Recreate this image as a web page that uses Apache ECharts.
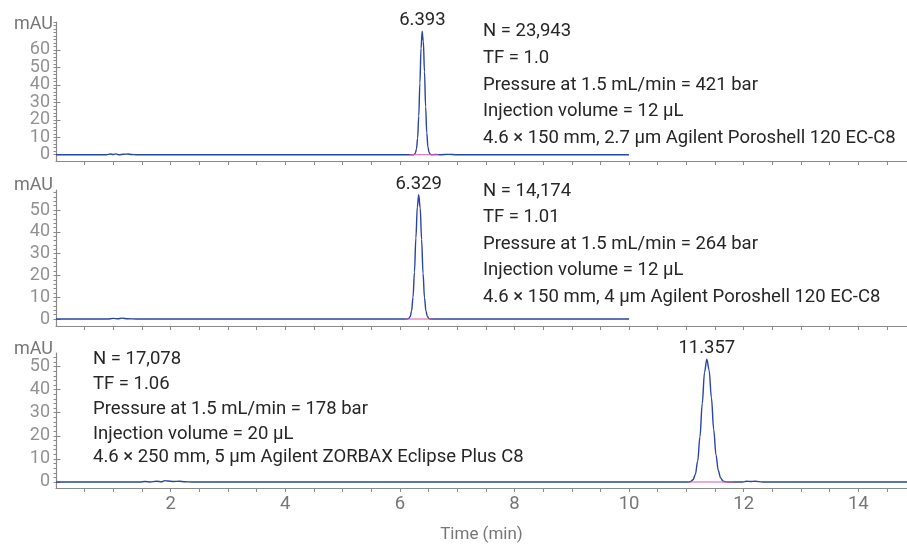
<!DOCTYPE html>
<html><head><meta charset="utf-8">
<script src="https://cdn.jsdelivr.net/npm/echarts@6/dist/echarts.min.js"></script>
<style>html,body{margin:0;padding:0;background:#fff}#c{width:907px;height:544px}</style>
</head><body><div id="c"></div><script>
// ---- Data ----
// Trace 1: 4.6 x 150 mm, 2.7 um Poroshell 120 EC-C8
const trace1Time  = [0, 0.5, 0.88, 0.95, 1.0, 1.05, 1.1, 1.18, 1.25, 1.32, 1.4, 2.5, 4.0, 5.5, 6.1, 6.23, 6.25, 6.27, 6.29, 6.31, 6.33, 6.35, 6.37, 6.39, 6.393, 6.41, 6.43, 6.45, 6.47, 6.49, 6.51, 6.53, 6.55, 6.62, 6.7, 6.85, 7.0, 7.2, 8.5, 10.0];
const trace1Value = [0, 0, 0, 0.4, 0.1, 0.5, 0, 0.3, 0.4, 0.1, 0, 0, 0, 0, 0, 0, 0.2, 0.8, 3.2, 9.4, 22, 41, 61, 70.8, 71, 65, 47.5, 27.5, 12.5, 4.5, 1.3, 0.3, 0, 0.15, 0, 0.2, 0, 0, 0, 0];
// Trace 2: 4.6 x 150 mm, 4 um Poroshell 120 EC-C8
const trace2Time  = [0, 0.5, 0.9, 1.0, 1.08, 1.15, 1.25, 1.4, 3.0, 5.0, 6.0, 6.13, 6.155, 6.18, 6.205, 6.23, 6.255, 6.28, 6.305, 6.329, 6.355, 6.38, 6.405, 6.43, 6.455, 6.48, 6.505, 6.53, 6.6, 7.0, 8.5, 10.0];
const trace2Value = [0, 0, 0, 0.3, 0.1, 0.4, 0.1, 0, 0, 0, 0, 0, 0.25, 1.1, 3.7, 10, 21.5, 37.2, 51.4, 57, 51, 36.5, 21, 9.8, 3.7, 1.2, 0.3, 0, 0, 0, 0, 0];
// Trace 3: 4.6 x 250 mm, 5 um ZORBAX Eclipse Plus C8
const trace3Time  = [0, 1.0, 1.46, 1.55, 1.65, 1.75, 1.85, 1.9, 1.95, 2.05, 2.15, 2.25, 2.37, 3.5, 6.0, 9.0, 10.9, 11.037, 11.077, 11.117, 11.157, 11.197, 11.237, 11.277, 11.317, 11.357, 11.397, 11.437, 11.477, 11.517, 11.557, 11.597, 11.637, 11.677, 11.717, 11.8, 11.98, 12.05, 12.12, 12.2, 12.33, 13.0, 14.0, 14.85];
const trace3Value = [0, 0, 0, 0.2, 0, 0.3, 0.1, 0.6, 0.4, 0.2, 0.3, 0.1, 0, 0, 0, 0, 0, 0, 0.23, 1.0, 3.3, 9.0, 19.6, 34, 47.5, 53.2, 48.4, 36.5, 22.7, 11.7, 5.0, 1.8, 0.5, 0.1, 0, 0, 0, 0.3, 0.2, 0.35, 0, 0, 0, 0];

// Integration baselines (start, end times)
const baseline1 = [6.17, 6.66];
const baseline2 = [6.09, 6.57];
const baseline3 = [11.02, 11.81];

// Peak labels
const peakTimes  = [6.393, 6.329, 11.357];
const peakValues = [71, 57, 53.2];
const peakLabels = ['6.393', '6.329', '11.357'];

// Annotation texts
const notes1 = ['N = 23,943', 'TF = 1.0', 'Pressure at 1.5 mL/min = 421 bar', 'Injection volume = 12 µL', '4.6 × 150 mm, 2.7 µm Agilent Poroshell 120 EC-C8'];
const notes2 = ['N = 14,174', 'TF = 1.01', 'Pressure at 1.5 mL/min = 264 bar', 'Injection volume = 12 µL', '4.6 × 150 mm, 4 µm Agilent Poroshell 120 EC-C8'];
const notes3 = ['N = 17,078', 'TF = 1.06', 'Pressure at 1.5 mL/min = 178 bar', 'Injection volume = 20 µL', '4.6 × 250 mm, 5 µm Agilent ZORBAX Eclipse Plus C8'];

// Axis ticks / labels
const xLabelValues = [2, 4, 6, 8, 10, 12, 14];
const xTickValues = [0.5, 1, 1.5, 2, 2.5, 3, 3.5, 4, 4.5, 5, 5.5, 6, 6.5, 7, 7.5, 8, 8.5, 9, 9.5, 10, 10.5, 11, 11.5, 12, 12.5, 13, 13.5, 14, 14.5];
const yLabels1 = [0, 10, 20, 30, 40, 50, 60];
const yLabels2 = [0, 10, 20, 30, 40, 50];
const yLabels3 = [0, 10, 20, 30, 40, 50];
const yRanges = [[-3.6, 76], [-3.2, 59.2], [-2.6, 55.85]];

// ---- Chart ----
const FONT = 'Roboto';
const FS = 18.5;
const YFS = 18;
const AXIS = '#8a8a8a';
const LABEL = '#767676';
const TEXT = '#262626';
const BLUE = '#2a44a4';
const PINK = '#d95aa8';

function minorTicks(max) { const a = []; for (let v = 0; v <= max; v += 2) a.push(v); return a; }

const grids = [
  { left: 56, width: 851, top: 22, height: 139 },
  { left: 56, width: 851, top: 190, height: 136 },
  { left: 56, width: 851, top: 353, height: 136 }
];
const nameGaps = [-2, 5, 4];

const xAxes = [0, 1, 2].map(i => ({
  type: 'value', gridIndex: i, min: 0, max: 14.85,
  axisLine: { show: true, onZero: false, lineStyle: { color: AXIS, width: 1.2 } },
  axisTick: { show: true, customValues: xTickValues, length: 4, lineStyle: { color: AXIS } },
  axisLabel: i === 2 ? { show: true, customValues: xLabelValues, color: LABEL, fontSize: FS, fontFamily: FONT, margin: 7 } : { show: false },
  splitLine: { show: false },
  name: i === 2 ? 'Time (min)' : '',
  nameLocation: 'middle', nameGap: 38,
  nameTextStyle: { color: LABEL, fontSize: 17, fontFamily: FONT }
}));

const yLabelSets = [yLabels1, yLabels2, yLabels3];
const yAxes = [];
[0, 1, 2].forEach(i => {
  yAxes.push({
    type: 'value', gridIndex: i, min: yRanges[i][0], max: yRanges[i][1],
    axisLine: { show: true, onZero: false, lineStyle: { color: AXIS, width: 1.2 } },
    axisTick: { show: true, customValues: minorTicks(yRanges[i][1]), length: 2.5, lineStyle: { color: AXIS } },
    axisLabel: { show: false },
    splitLine: { show: false },
    name: 'mAU', nameLocation: 'end', nameGap: nameGaps[i],
    nameTextStyle: { color: LABEL, fontSize: YFS, fontFamily: FONT, align: 'right', verticalAlign: 'middle', padding: [0, 3, 0, 0] }
  });
});
[0, 1, 2].forEach(i => {
  yAxes.push({
    type: 'value', gridIndex: i, min: yRanges[i][0], max: yRanges[i][1],
    axisLine: { show: false },
    axisTick: { show: true, customValues: yLabelSets[i], length: 4.5, lineStyle: { color: AXIS } },
    axisLabel: { show: false }, splitLine: { show: false }
  });
});

const traces = [[trace1Time, trace1Value], [trace2Time, trace2Value], [trace3Time, trace3Value]];
const baselines = [baseline1, baseline2, baseline3];
const series = [];
traces.forEach((tr, i) => {
  series.push({
    type: 'line', xAxisIndex: i, yAxisIndex: i,
    data: tr[0].map((t, k) => [t, tr[1][k]]),
    showSymbol: false, smooth: 0.35, smoothMonotone: 'x',
    lineStyle: { color: BLUE, width: 1.4 }, itemStyle: { color: BLUE },
    silent: true, animation: false, z: 2,
    markPoint: {
      symbol: 'circle', symbolSize: 0.01, silent: true, animation: false,
      data: [{ coord: [peakTimes[i], peakValues[i]], value: peakLabels[i] }],
      label: { show: true, position: 'top', distance: 1, color: TEXT, fontSize: FS, fontFamily: FONT, formatter: peakLabels[i] }
    }
  });
  series.push({
    type: 'line', xAxisIndex: i, yAxisIndex: i,
    data: [[baselines[i][0], 0], [baselines[i][1], 0]],
    showSymbol: false, lineStyle: { color: PINK, width: 1 }, silent: true, animation: false, z: 3
  });
  // y-axis tick labels, placed through the y scale
  series.push({
    type: 'scatter', xAxisIndex: i, yAxisIndex: i, clip: false,
    data: yLabelSets[i].map(v => [0, v]),
    symbolSize: 0, silent: true, animation: false,
    label: { show: true, position: 'left', distance: 6, color: LABEL, fontSize: YFS, fontFamily: FONT,
             formatter: p => String(p.value[1]) }
  });
});

const graphic = [];
function addNotes(lines, x, ys) {
  lines.forEach((s, k) => graphic.push({
    type: 'text', x: x, y: ys[k], silent: true,
    style: { text: s, fill: TEXT, font: FS + 'px ' + FONT, verticalAlign: 'middle', textVerticalAlign: 'middle' }
  }));
}
addNotes(notes1, 483, [31.5, 58.5, 85, 111.5, 138]);
addNotes(notes2, 483, [191, 217.5, 244, 270.5, 297]);
addNotes(notes3, 93, [359, 384, 409, 434, 457]);

const chart = echarts.init(document.getElementById('c'), null, { renderer: 'canvas' });
chart.setOption({
  animation: false,
  backgroundColor: '#ffffff',
  textStyle: { fontFamily: FONT },
  grid: grids, xAxis: xAxes, yAxis: yAxes, series: series, graphic: graphic
});
</script></body></html>
